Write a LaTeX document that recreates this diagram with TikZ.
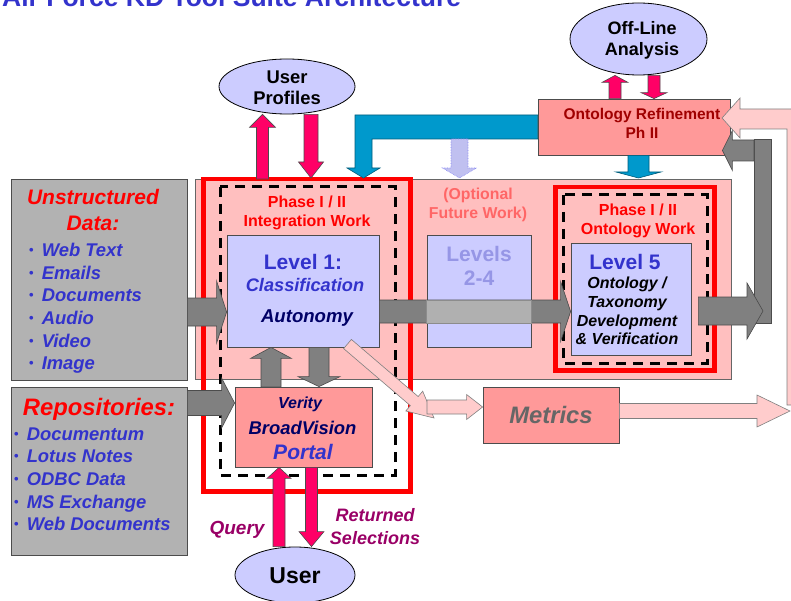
\documentclass[tikz,border=0pt]{standalone}
\usepackage{fontspec}
\setmainfont{Liberation Sans}
\usetikzlibrary{calc,shapes.geometric}

\definecolor{kdblue}{RGB}{51,51,204}
\definecolor{kdnavy}{RGB}{0,0,102}
\definecolor{kdred}{RGB}{255,0,0}
\definecolor{kddarkred}{RGB}{160,0,0}
\definecolor{kdsalmon}{RGB}{255,102,102}
\definecolor{kdlevels}{RGB}{150,150,230}
\definecolor{kdplum}{RGB}{153,0,102}
\definecolor{kdgraybox}{RGB}{178,178,178}
\definecolor{kdgray}{RGB}{128,128,128}
\definecolor{kdgraylt}{RGB}{176,176,176}
\definecolor{kdpinkbg}{RGB}{255,191,191}
\definecolor{kdlav}{RGB}{204,204,255}
\definecolor{kdrose}{RGB}{255,153,153}
\definecolor{kdhot}{RGB}{255,0,102}
\definecolor{kdcyan}{RGB}{0,153,204}
\definecolor{kdpale}{RGB}{255,204,204}
\definecolor{kddash}{RGB}{192,192,240}

% block arrow: [style]{from}{tip}{half shaft}{half head}{head length}
\newcommand\blockarrow[6][]{%
  \filldraw[#1] let \p1=(#2), \p2=(#3), \n1={atan2(\y2-\y1,\x2-\x1)},
    \p3=($(\p2)+({\n1+180}:#6)$) in
    ($(\p1)+({\n1+90}:#4)$) -- ($(\p3)+({\n1+90}:#4)$) -- ($(\p3)+({\n1+90}:#5)$)
    -- (\p2) -- ($(\p3)+({\n1-90}:#5)$) -- ($(\p3)+({\n1-90}:#4)$)
    -- ($(\p1)+({\n1-90}:#4)$) -- cycle;}
\newcommand\itm{\raisebox{2pt}{\upshape\fontsize{13}{13}\selectfont\textbullet}\hspace{8pt}}

\begin{document}
\begin{tikzpicture}[x=1pt, y=-1pt, font=\bfseries,
    box/.style={rectangle, draw=black!70, line width=0.8pt, inner sep=0pt},
    blob/.style={ellipse, draw=black, line width=0.8pt, fill=kdlav, inner sep=0pt},
    lbl/.style={anchor=base, align=center, inner sep=0pt},
    lst/.style={anchor=base west, align=left, inner sep=0pt, text=kdblue,
        font=\fontsize{18.4}{22.6}\selectfont\bfseries\itshape},
    phase/.style={lbl, text=kdred, font=\fontsize{16}{19}\selectfont\bfseries},
    redframe/.style={draw=kdred, line width=4.5pt},
    dashframe/.style={draw=black, line width=3pt, dash pattern=on 10pt off 7pt},
    grayarr/.style={fill=kdgray, draw=black!70, line width=0.6pt},
    hotarr/.style={fill=kdhot, draw=black!70, line width=0.6pt},
    palearr/.style={fill=kdpale, draw=black!50, line width=0.6pt},
    cyanarr/.style={fill=kdcyan, draw=kdcyan!60!black, line width=0.6pt}]
\useasboundingbox (0,0) rectangle (791,601);
\clip (0,0) rectangle (791,601);

    \node[anchor=base west, inner sep=0pt, text=kdblue, font=\fontsize{26.5}{30}\selectfont\bfseries] (title) at (2,7) {Air Force KD Tool Suite Architecture};

% frames
\draw[fill=kdpinkbg, draw=black!60, line width=0.8pt] (195,179) rectangle (731,379);
\draw[redframe] (203.5,179) rectangle (410.5,491.5);
\draw[dashframe] (220,187) rectangle (395,475);
\draw[redframe] (555.5,187) rectangle (714.5,370.5);
\draw[dashframe] (563,195) rectangle (707,363);

% boxes
\node[box, fill=kdgraybox, minimum width=176pt, minimum height=201pt] (unstr) at (99,279.5) {};
\node[box, fill=kdgraybox, minimum width=176pt, minimum height=168pt] (repos) at (99,471) {};
\node[box, fill=kdlav, minimum width=152pt, minimum height=112pt] (lvl1) at (303,291) {};
\node[box, fill=kdlav, minimum width=104pt, minimum height=112pt] (lvl24) at (479,291) {};
\node[box, fill=kdlav, minimum width=120pt, minimum height=112pt] (lvl5) at (631,299) {};
\node[box, fill=kdrose, minimum width=137pt, minimum height=80pt] (portal) at (303.5,427) {};
\node[box, fill=kdrose, minimum width=136pt, minimum height=56pt] (metrics) at (551,415) {};
\node[box, fill=kdrose, minimum width=192pt, minimum height=56pt] (ontref) at (634,127) {};
\node[blob, minimum width=137pt, minimum height=72pt] (offline) at (638.5,39) {};
\node[blob, minimum width=136pt, minimum height=55pt] (profiles) at (287,86.5) {};
\node[blob, minimum width=120pt, minimum height=56pt] (user) at (295,575) {};

% texts (multi-line ones sit on their last baseline)
\node[lbl, text=kdred, font=\fontsize{21}{26}\selectfont\bfseries\itshape] (unstrhead) at (93,230.5) {Unstructured\\Data:};
\node[lst] (unstrlist) at (29,369.6) {\itm Web Text\\\itm Emails\\\itm Documents\\\itm Audio\\\itm Video\\\itm Image};
\node[lbl, text=kdred, font=\fontsize{23.8}{28}\selectfont\bfseries\itshape] (reposhead) at (99,415.5) {Repositories:};
\node[lst] (reposlist) at (14,530.6) {\itm Documentum\\\itm Lotus Notes\\\itm ODBC Data\\\itm MS Exchange\\\itm Web Documents};
\node[phase] (intphase) at (307,226.7) {Phase I / II\\Integration Work};
\node[lbl, text=kdsalmon, font=\fontsize{15.8}{19}\selectfont\bfseries] (optional) at (478,218.7) {(Optional\\Future Work)};
\node[phase] (ontphase) at (638,234.7) {Phase I / II\\Ontology Work};
\node[lbl, text=kdblue, font=\fontsize{21}{25}\selectfont\bfseries] (lvl1a) at (303,269.5) {Level 1:};
\node[lbl, text=kdblue, font=\fontsize{18.2}{22}\selectfont\bfseries\itshape] (lvl1b) at (305,291.5) {Classification};
\node[lbl, text=kdnavy, font=\fontsize{18.6}{22}\selectfont\bfseries\itshape] (lvl1c) at (307,322.6) {Autonomy};
\node[lbl, text=kdlevels, font=\fontsize{21}{24}\selectfont\bfseries] (lvl24a) at (479,285.5) {Levels\\2-4};
\node[lbl, text=kdblue, font=\fontsize{21}{25}\selectfont\bfseries] (lvl5a) at (625,269.5) {Level 5};
\node[lbl, font=\fontsize{16}{18.7}\selectfont\bfseries\itshape] (lvl5b) at (627,344.8) {Ontology /\\Taxonomy\\Development\\\& Verification};
\node[lbl, text=kdnavy, font=\fontsize{16}{19}\selectfont\bfseries\itshape] (portala) at (300,408.7) {Verity};
\node[lbl, text=kdnavy, font=\fontsize{18.4}{22}\selectfont\bfseries\itshape] (portalb) at (302.5,434.6) {BroadVision};
\node[lbl, text=kdblue, font=\fontsize{21}{25}\selectfont\bfseries\itshape] (portalc) at (303,459.5) {Portal};
\node[lbl, text=black!60, font=\fontsize{23.8}{28}\selectfont\bfseries\itshape] (metricsl) at (551,423.5) {Metrics};
\node[lbl, text=kddarkred, font=\fontsize{15.5}{19}\selectfont\bfseries] (ontrefl) at (642,138.5) {Ontology Refinement\\Ph II};
\node[lbl, font=\fontsize{18}{21}\selectfont\bfseries] (offlinel) at (642,55.4) {Off-Line\\Analysis};
\node[lbl, font=\fontsize{18.4}{21}\selectfont\bfseries] (profilesl) at (287,104.6) {User\\Profiles};
\node[lbl, font=\fontsize{23}{27}\selectfont\bfseries] (userl) at (295,583) {User};
\node[lbl, text=kdplum, font=\fontsize{19}{23}\selectfont\bfseries\itshape] (query) at (237,534) {Query};
\node[lbl, text=kdplum, font=\fontsize{18}{23}\selectfont\bfseries\itshape] (returned) at (375,544.5) {Returned\\Selections};

% gray arrows
\blockarrow[grayarr]{unstr.east |- 0,312}{lvl1.west |- 0,312}{14pt}{31pt}{10pt}
\blockarrow[grayarr]{lvl1.east |- 0,311.5}{lvl5.west |- 0,311.5}{11.5pt}{30pt}{10pt}
\filldraw[fill=kdgraylt, draw=black!45, line width=0.5pt] (lvl24.west |- 0,300) rectangle (lvl24.east |- 0,323);
\blockarrow[grayarr]{repos.east |- 0,403}{portal.west |- 0,403}{12.5pt}{25pt}{13pt}
\blockarrow[grayarr]{portal.north -| 271,0}{lvl1.south -| 271,0}{10pt}{20.5pt}{11pt}
\blockarrow[grayarr]{lvl1.south -| 319,0}{portal.north -| 319,0}{10pt}{21pt}{10pt}
\filldraw[grayarr] (754,139) rectangle (771,323);
\blockarrow[grayarr]{$(lvl5.east |- 0,311)+(7pt,0)$}{763,311}{14pt}{28pt}{16pt}
\blockarrow[grayarr]{754,150.5}{$(ontref.east |- 0,150.5)+(-8pt,0)$}{10.5pt}{20pt}{10pt}

% pink arrows
\blockarrow[hotarr]{user.north -| 279,0}{portal.south -| 279,0}{6pt}{12pt}{11pt}
\blockarrow[hotarr]{portal.south -| 311.5,0}{user.north -| 311.5,0}{6pt}{12.5pt}{15pt}
\blockarrow[hotarr]{262.5,179}{profiles.south -| 262.5,0}{6pt}{13pt}{13pt}
\blockarrow[hotarr]{profiles.south -| 311,0}{311,178}{7pt}{12.5pt}{16pt}
\blockarrow[hotarr]{ontref.north -| 615,0}{offline.south -| 615,0}{6pt}{13pt}{7pt}
\blockarrow[hotarr]{offline.south -| 654,0}{ontref.north -| 654,0}{6pt}{13pt}{6pt}

% blue arrows
\blockarrow[cyanarr]{ontref.south -| 638.5,0}{638.5,178}{10.5pt}{22.5pt}{6pt}
\filldraw[cyanarr] (ontref.west |- 0,115) -- (355,115) -- (355,168) -- (347,168) -- (363.5,178)
    -- (380,168) -- (372,168) -- (372,139) -- (ontref.west |- 0,139) -- cycle;
\blockarrow[fill=kddash, draw=kddash!70!blue, densely dotted, line width=0.6pt]{459.5,139}{459.5,178}{8.5pt}{17pt}{10pt}

% pale arrows
\blockarrow[palearr]{347.5,344}{434,418}{6pt}{13pt}{26pt}
\blockarrow[palearr]{427,407}{metrics.west |- 0,407}{7pt}{12.5pt}{16pt}
\filldraw[palearr] (722,118) -- (740,98) -- (740,109) -- (800,109) -- (800,405) -- (787,405)
    -- (787,129) -- (740,129) -- (740,138) -- cycle;
\blockarrow[palearr]{metrics.east |- 0,411}{790,411}{7.5pt}{16pt}{33pt}

\end{tikzpicture}
\end{document}
